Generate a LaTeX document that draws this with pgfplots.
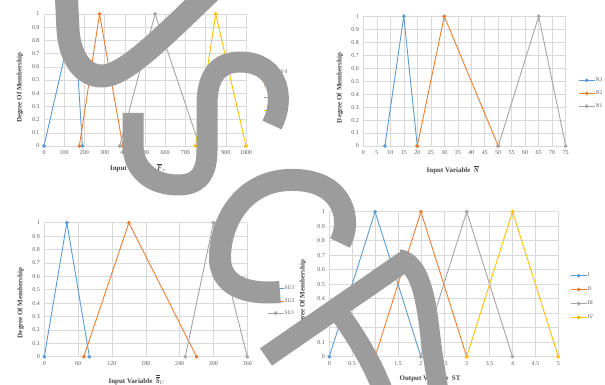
\documentclass[border=0pt]{standalone}
\usepackage{fontspec}
\setmainfont{Liberation Serif}
\usepackage{pgfplots}
\pgfplotsset{compat=1.18}
\definecolor{xblue}{HTML}{5B9BD5}
\definecolor{xorange}{HTML}{ED7D31}
\definecolor{xgray}{HTML}{A5A5A5}
\definecolor{xyellow}{HTML}{FFC000}
\definecolor{txt}{HTML}{595959}
\definecolor{lbl}{HTML}{404040}
\definecolor{grd}{HTML}{D9D9D9}
\definecolor{wm}{HTML}{9C9C9C}
\pgfplotsset{
  mf/.style={
    scale only axis, anchor=south west,
    ymin=0, ymax=1,
    ytick={0,0.1,0.2,0.3,0.4,0.5,0.6,0.7,0.8,0.9,1},
    yticklabels={0,0.1,0.2,0.3,0.4,0.5,0.6,0.7,0.8,0.9,1},
    grid=major, major grid style={draw=grd, line width=0.5bp},
    axis line style={draw=none}, tick style={draw=none},
    tick label style={font=\fontsize{6}{7}\selectfont, text=txt},
    /pgf/number format/assume math mode=true,
    /pgf/number format/1000 sep={},
    xticklabel style={yshift=-1bp},
    yticklabel style={xshift=-1bp},
    label style={font=\bfseries\fontsize{7}{8}\selectfont, text=lbl},
    legend style={draw=none, fill=none, font=\fontsize{5.5}{6}\selectfont, text=txt, anchor=west,
      inner sep=0pt, nodes={inner sep=0.5bp}, cells={anchor=west}},
    legend image code/.code={\draw[mark repeat=2,mark phase=2,##1] plot coordinates {(0bp,0bp) (8bp,0bp) (16bp,0bp)};},
    every axis plot/.append style={line width=0.9bp, mark=*, mark size=1.4bp},
    clip=false,
  },
}
\begin{document}
\begin{tikzpicture}
\useasboundingbox (0,0) rectangle (605bp,385bp);
% top-left
\begin{axis}[mf, at={(44bp,239bp)}, width=202bp, height=132bp,
  xmin=0, xmax=1000, xtick={0,100,...,1000},
  xlabel={Input Variable \ $\overline{\textbf{\textit{F}}}_{s}$},
  xlabel style={at={(axis description cs:0.465,-0.167)}, anchor=center},
  ylabel={Degree Of Membership},
  ylabel style={at={(axis description cs:-0.119,0.44)}, anchor=center},
  legend style={at={(1.084,0.413)}, row sep=6.5bp}]
\addplot[xblue] coordinates {(0,0) (150,1) (190,0)};
\addplot[xorange] coordinates {(175,0) (275,1) (390,0)};
\addplot[xgray] coordinates {(375,0) (550,1) (770,0)};
\addplot[xyellow] coordinates {(750,0) (850,1) (1000,0)};
\legend{V4,V3,V2,V1}
\end{axis}
% top-right
\begin{axis}[mf, at={(363.3bp,239bp)}, width=202.4bp, height=129.7bp,
  xmin=0, xmax=75, xtick={0,5,...,75},
  xlabel={Input Variable \ $\overline{\textbf{\textit{N}}}$},
  xlabel style={at={(axis description cs:0.443,-0.185)}, anchor=center},
  ylabel={Degree Of Membership},
  ylabel style={at={(axis description cs:-0.115,0.447)}, anchor=center},
  legend style={at={(1.061,0.406)}, row sep=6.8bp}]
\addplot[xblue] coordinates {(8,0) (15,1) (20,0)};
\addplot[xorange] coordinates {(20,0) (30,1) (50,0)};
\addplot[xgray] coordinates {(50,0) (65,1) (75,0)};
\legend{N3,N2,N1}
\end{axis}
% bottom-left
\begin{axis}[mf, at={(44.3bp,28.3bp)}, width=203bp, height=134bp,
  xmin=0, xmax=360, xtick={0,60,...,360},
  xlabel={Input Variable \ $\overline{\overline{\textbf{\textit{S}}}}_{U}$},
  xlabel style={at={(axis description cs:0.457,-0.174)}, anchor=center},
  ylabel={Degree Of Membership},
  ylabel style={at={(axis description cs:-0.116,0.40)}, anchor=center},
  legend style={at={(1.097,0.416)}, row sep=6bp}]
\addplot[xblue] coordinates {(0,0) (40,1) (80,0)};
\addplot[xorange] coordinates {(70,0) (150,1) (270,0)};
\addplot[xgray] coordinates {(250,0) (300,1) (360,0)};
\legend{SU3,SU2,SU1}
\end{axis}
% bottom-right
\begin{axis}[mf, at={(329.3bp,28.3bp)}, width=229bp, height=145bp,
  xmin=0, xmax=5, xtick={0,0.5,...,5},
  xlabel={Output Variable \ ST},
  xlabel style={at={(axis description cs:0.44,-0.154)}, anchor=center},
  ylabel={Degree Of Membership},
  ylabel style={at={(axis description cs:-0.115,0.425)}, anchor=center},
  legend style={at={(1.051,0.415)}, row sep=7.8bp}]
\addplot[xblue] coordinates {(0,0) (1,1) (2,0)};
\addplot[xorange] coordinates {(1,0) (2,1) (3,0)};
\addplot[xgray] coordinates {(2,0) (3,1) (4,0)};
\addplot[xyellow] coordinates {(3,0) (4,1) (5,0)};
\legend{I,II,III,IV}
\end{axis}
% watermark overlay
\begin{scope}[x=1bp, y=-1bp, shift={(0bp,385bp)}]
\clip (0,0) rectangle (605,385);
\begin{scope}[draw=wm, line width=23bp, line join=round]
% U
\draw (66,-12) -- (68,30) .. controls (70,60) and (85,77) .. (103,76) .. controls (125,75) and (160,40) .. (214,-12);
% S
\draw[line width=21bp] (272,125) .. controls (285,100) and (280,62) .. (240,62) .. controls (212,62) and (207,85) .. (207,105) -- (207,150) .. controls (207,178) and (195,185) .. (178,185) .. controls (150,185) and (133,168) .. (133,145) -- (133,113);
% C
\draw[line width=22bp] (340,243) .. controls (352,222) and (345,181) .. (295,180) .. controls (245,178) and (220,220) .. (220,258) .. controls (220,285) and (245,295) .. (280,292);
% P
\draw[line width=21bp] (266,357) -- (405,261);
\draw[line width=20bp] (398,259) .. controls (425,262) and (428,320) .. (432,350) -- (440,400) .. controls (445,440) and (395,440) .. (388,405) .. controls (375,365) and (355,335) .. (338,311);
\end{scope}
\end{scope}
\end{tikzpicture}
\end{document}
